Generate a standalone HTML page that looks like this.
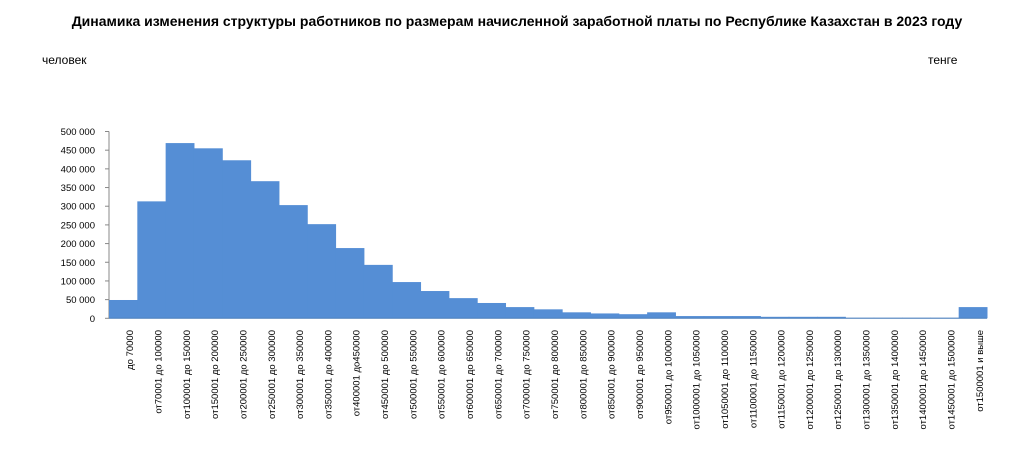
<!DOCTYPE html>
<html><head><meta charset="utf-8"><style>
body{margin:0;background:#fff;width:1029px;height:471px;overflow:hidden;font-family:"Liberation Sans",sans-serif;}
</style></head><body>
<svg width="1029" height="471" xmlns="http://www.w3.org/2000/svg">
<text x="517" y="26" text-anchor="middle" font-size="14" font-weight="bold" font-family="Liberation Sans, sans-serif">Динамика изменения структуры работников по размерам начисленной заработной платы по Республике Казахстан в 2023 году</text>
<text x="42" y="64" font-size="12" font-family="Liberation Sans, sans-serif">человек</text>
<text x="928" y="64" font-size="12" font-family="Liberation Sans, sans-serif">тенге</text>
<g id="yaxis"></g>
<g id="bars"></g>
<g id="xlabels"></g>
</svg>
<script>
const categories=["до 70000","от70001 до 100000","от100001 до 150000","от150001 до 200000","от200001 до 250000","от250001 до 300000","от300001 до 350000","от350001 до 400000","от400001 до450000","от450001 до 500000","от500001 до 550000","от550001 до 600000","от600001 до 650000","от650001 до 700000","от700001 до 750000","от750001 до 800000","от800001 до 850000","от850001 до 900000","от900001 до 950000","от950001 до 1000000","от1000001 до 1050000","от1050001 до 1100000","от1100001 до 1150000","от1150001 до 1200000","от1200001 до 1250000","от1250001 до 1300000","от1300001 до 1350000","от1350001 до 1400000","от1400001 до 1450000","от1450001 до 1500000","от1500001 и выше"];
const values=[49000,313000,469000,455000,423000,367000,303000,252000,188000,143000,97000,73000,54000,41000,30000,24000,16000,13000,11000,16000,6000,6000,6000,4000,4000,4000,1500,1500,1500,1500,30000];
const yTicks=[0,50000,100000,150000,200000,250000,300000,350000,400000,450000,500000];
const tickLabels=["0","50 000","100 000","150 000","200 000","250 000","300 000","350 000","400 000","450 000","500 000"];
const NS="http://www.w3.org/2000/svg";
const x0=109,x1=987,y0=318.3,yTop=131.5,yMax=500000;
const bw=(x1-x0)/categories.length;
const ys=v=>y0-(v/yMax)*(y0-yTop);
const xs=i=>x0+i*bw;
const ya=document.getElementById('yaxis'),bg=document.getElementById('bars'),xl=document.getElementById('xlabels');
let l=document.createElementNS(NS,'line');


l.setAttribute('x1',x0);l.setAttribute('x2',x0);l.setAttribute('y1',yTop);l.setAttribute('y2',y0);l.setAttribute('stroke','#888');
ya.appendChild(l);
yTicks.forEach((t,i)=>{
 const tk=document.createElementNS(NS,'line');
 
 
 tk.setAttribute('x1',x0-4);tk.setAttribute('x2',x0);tk.setAttribute('y1',ys(t));tk.setAttribute('y2',ys(t));tk.setAttribute('stroke','#888');
 ya.appendChild(tk);
 const tx=document.createElementNS(NS,'text');
 
 
 tx.setAttribute('x',x0-14);tx.setAttribute('y',ys(t)+3.5);tx.setAttribute('text-anchor','end');tx.setAttribute('font-size','9.5');
 tx.textContent=tickLabels[i];ya.appendChild(tx);
});
values.forEach((v,i)=>{
 const r=document.createElementNS(NS,'rect');
 
 
 r.setAttribute('x',xs(i));r.setAttribute('width',bw+0.5);r.setAttribute('y',ys(v));r.setAttribute('height',y0-ys(v));r.setAttribute('fill','#558ed5');
 bg.appendChild(r);
});
let xa=document.createElementNS(NS,'line');


xa.setAttribute('x1',x0);xa.setAttribute('x2',x1);xa.setAttribute('y1',y0);xa.setAttribute('y2',y0);xa.setAttribute('stroke','#4a7ebb');
bg.appendChild(xa);
categories.forEach((c,i)=>{
 const t=document.createElementNS(NS,'text');
 
 
 const cx=xs(i)+bw/2+10,cy=330;
 t.setAttribute('x',cx);t.setAttribute('y',cy);t.setAttribute('text-anchor','end');t.setAttribute('font-size','9.5');
 t.setAttribute('transform','rotate(-90 '+cx+' '+cy+')');
 t.textContent=c;xl.appendChild(t);
});
</script>
</body></html>
